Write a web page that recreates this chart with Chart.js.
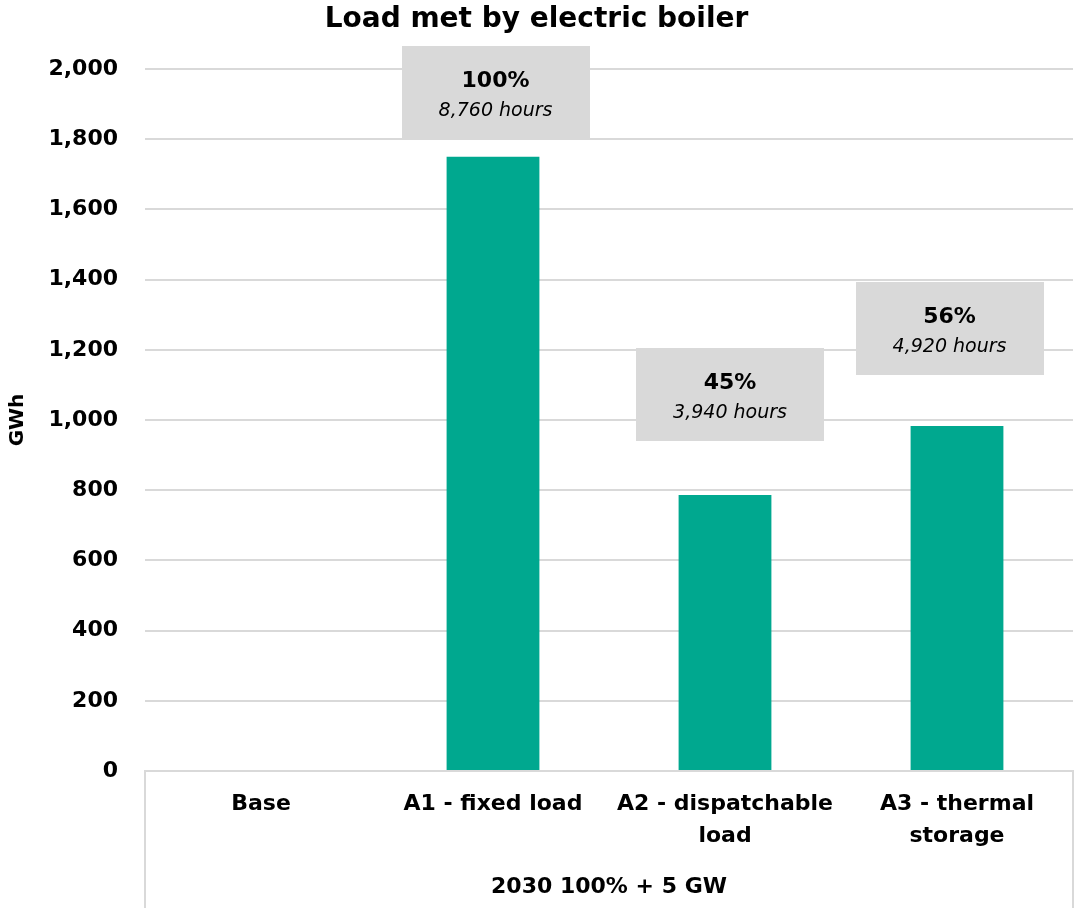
<!DOCTYPE html>
<html>
<head>
<meta charset="utf-8">
<script src="https://cdn.jsdelivr.net/npm/chart.js@4/dist/chart.umd.min.js"></script>
<style>
  html, body { margin: 0; padding: 0; background: #ffffff; }
  #wrap { width: 1074px; height: 908px; position: relative; }
</style>
</head>
<body>
<div id="wrap"><canvas id="chart"></canvas></div>
<script>
// Scenario categories (multi-line tick labels)
const categories = [
  ['Base'],
  ['A1 - fixed load'],
  ['A2 - dispatchable', 'load'],
  ['A3 - thermal', 'storage']
];
// Load met by the electric boiler, GWh
const loadGWh = [0, 1750, 786, 983];
// Share of the year the boiler runs, and the matching hours
const shareLabels = [null, '100%', '45%', '56%'];
const hourLabels = [null, '8,760 hours', '3,940 hours', '4,920 hours'];
// Axis settings
const yMin = 0;
const yMax = 2000;
const yStep = 200;
const groupLabel = '2030 100% + 5 GW';

const FONT = "'DejaVu Sans', sans-serif";
const TEXT = '#000000';
const GRID = '#D9D9D9';
const BAR = '#00A88F';

// Callout placement: centre in axis units and a small horizontal nudge in px
const calloutLayout = {
  centerValue: [null, 1933, 1073, 1261],
  nudgeX: [0, 2.5, 5, -7.5],
  width: 188,
  height: 93
};

// Grey callout boxes above the bars
const calloutPlugin = {
  id: 'callouts',
  afterDatasetsDraw(chart) {
    const { ctx, scales: { x, y } } = chart;
    ctx.save();
    shareLabels.forEach((share, i) => {
      if (!share) return;
      const cx = x.getPixelForValue(i) + calloutLayout.nudgeX[i];
      const cy = y.getPixelForValue(calloutLayout.centerValue[i]);
      const w = calloutLayout.width, h = calloutLayout.height;
      ctx.fillStyle = '#D9D9D9';
      ctx.fillRect(Math.round(cx - w / 2), Math.round(cy - h / 2), w, h);
      ctx.fillStyle = TEXT;
      ctx.textAlign = 'center';
      ctx.textBaseline = 'middle';
      ctx.font = 'bold 22px ' + FONT;
      ctx.fillText(share, cx, cy - 11);
      ctx.font = 'italic 19px ' + FONT;
      ctx.fillText(hourLabels[i], cx, cy + 19);
    });
    ctx.restore();
  }
};

// Frame around the category axis (left and right edges)
const axisFramePlugin = {
  id: 'axisFrame',
  afterDraw(chart) {
    const { ctx, chartArea } = chart;
    const bottom = chart.height;
    ctx.save();
    ctx.strokeStyle = GRID;
    ctx.lineWidth = 2;
    ctx.beginPath();
    ctx.moveTo(chartArea.left, chartArea.bottom);
    ctx.lineTo(chartArea.left, bottom);
    ctx.moveTo(chartArea.right, chartArea.bottom);
    ctx.lineTo(chartArea.right, bottom);
    ctx.stroke();
    ctx.restore();
  }
};

new Chart(document.getElementById('chart'), {
  type: 'bar',
  data: {
    labels: categories,
    datasets: [{
      label: 'Load met by electric boiler',
      data: loadGWh,
      backgroundColor: BAR,
      borderWidth: 0,
      barPercentage: 0.4,
      categoryPercentage: 1.0
    }]
  },
  options: {
    responsive: true,
    maintainAspectRatio: false,
    animation: false,
    layout: { padding: { left: 0, right: 1, top: 0, bottom: 0 } },
    plugins: {
      legend: { display: false },
      tooltip: { enabled: false },
      title: {
        display: true,
        text: 'Load met by electric boiler',
        color: TEXT,
        font: { family: FONT, size: 28, weight: 'bold', lineHeight: 1.2 },
        padding: { top: 2.5, bottom: 32.9 }
      }
    },
    scales: {
      x: {
        grid: { display: false, drawTicks: false },
        border: { display: true, color: GRID, width: 2 },
        ticks: {
          color: TEXT,
          padding: 17,
          maxRotation: 0,
          autoSkip: false,
          font: { family: FONT, size: 22, weight: 'bold', lineHeight: 1.45 }
        },
        title: {
          display: true,
          text: groupLabel,
          color: TEXT,
          font: { family: FONT, size: 22, weight: 'bold', lineHeight: 1.2 },
          padding: { top: 0, bottom: 8 }
        },
        afterFit(scale) { scale.height = 137; }
      },
      y: {
        min: yMin,
        max: yMax,
        grid: { color: GRID, lineWidth: 2, drawTicks: false },
        border: { display: false },
        ticks: {
          stepSize: yStep,
          color: TEXT,
          padding: 27,
          font: { family: FONT, size: 22, weight: 'bold' },
          callback: (v) => v.toLocaleString('en-US')
        },
        title: {
          display: true,
          text: 'GWh',
          color: TEXT,
          font: { family: FONT, size: 20, weight: 'bold', lineHeight: 1.2 },
          padding: { top: 6, bottom: 0 }
        },
        afterFit(scale) { scale.width = 145; }
      }
    }
  },
  plugins: [calloutPlugin, axisFramePlugin]
});
</script>
</body>
</html>
